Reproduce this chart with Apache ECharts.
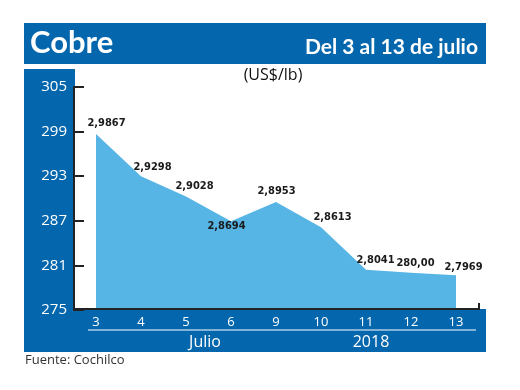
<!DOCTYPE html>
<html>
<head>
<meta charset="utf-8">
<script src="https://cdn.jsdelivr.net/npm/echarts@6/dist/echarts.min.js"></script>
<style>html,body{margin:0;padding:0;background:#fff;}#c{width:520px;height:390px;}</style>
</head>
<body>
<div id="c"></div>
<script>
// Data
var categories = ['3', '4', '5', '6', '9', '10', '11', '12', '13'];
var values = [298.67, 292.98, 290.28, 286.94, 289.53, 286.13, 280.41, 280.00, 279.69];
var valueLabels = ['2,9867', '2,9298', '2,9028', '2,8694', '2,8953', '2,8613', '2,8041', '280,00', '2,7969'];
var yTicks = [275, 281, 287, 293, 299, 305];
var periodLabels = ['Julio', '2018'];

// Label placement (style only)
var labelOffsets = [[10.5, 0.5], [11.5, 2], [8.5, 1], [-4.5, -6.5], [0.5, 0.5], [11.5, 1], [9.5, 1.5], [4.5, 1.5], [7.5, 3]];
var labelPositions = ['top', 'top', 'top', 'bottom', 'top', 'top', 'top', 'top', 'top'];

var BLUE = '#0467ae';
var chart = echarts.init(document.getElementById('c'), null, {renderer: 'canvas'});

var seriesData = values.map(function (v, i) {
  return {
    value: v,
    label: { position: labelPositions[i], offset: labelOffsets[i] }
  };
});

chart.setOption({
  animation: false,
  backgroundColor: '#fff',
  grid: { left: 96, right: 64, top: 87, bottom: 80 },
  xAxis: {
    type: 'category',
    data: categories,
    boundaryGap: false,
    z: 10,
    axisLine: { show: false },
    axisTick: { show: false },
    axisLabel: { color: '#fff', fontSize: 13, fontFamily: 'Open Sans', margin: 6 }
  },
  yAxis: {
    type: 'value',
    min: yTicks[0],
    max: yTicks[yTicks.length - 1],
    interval: 6,
    offset: 22,
    z: 10,
    splitLine: { show: false },
    axisLine: { show: true, lineStyle: { color: '#222', width: 2 } },
    axisTick: { show: true, inside: true, length: 10, lineStyle: { color: '#222', width: 2 } },
    axisLabel: { color: '#fff', fontSize: 15, fontFamily: 'Open Sans', margin: 7 }
  },
  series: [{
    type: 'line',
    data: seriesData,
    symbol: 'circle',
    symbolSize: 1,
    showSymbol: true,
    itemStyle: { color: 'rgba(0,0,0,0)' },
    z: 2,
    lineStyle: { width: 0 },
    areaStyle: { color: '#56b5e4', opacity: 1 },
    label: {
      show: true,
      distance: 5,
      color: '#1a1a1a',
      fontSize: 11,
      fontWeight: 'bold',
      fontFamily: '"DejaVu Sans Condensed", "DejaVu Sans", sans-serif',
      formatter: function (p) { return valueLabels[p.dataIndex]; }
    }
  }],
  graphic: {
    elements: [
      { type: 'rect', z: -10, shape: { x: 24, y: 23, width: 462, height: 41 }, style: { fill: BLUE } },
      { type: 'rect', z: -10, shape: { x: 24, y: 69, width: 51, height: 283 }, style: { fill: BLUE } },
      { type: 'rect', z: 5, shape: { x: 24, y: 309, width: 462, height: 43 }, style: { fill: BLUE } },
      { type: 'polyline', z: 6, shape: { points: [[74, 309], [479, 309], [479, 303]] }, style: { stroke: '#222', lineWidth: 2, fill: null } },
      { type: 'line', z: 6, shape: { x1: 88, y1: 330, x2: 476, y2: 330 }, style: { stroke: '#fff', lineWidth: 1.2 } },
      { type: 'text', z: 6, style: { text: 'Cobre', x: 30, y: 43, textVerticalAlign: 'middle', fill: '#fff', font: 'bold 31px Lato' } },
      { type: 'text', z: 6, style: { text: 'Del 3 al 13 de julio', x: 478, y: 47, textAlign: 'right', textVerticalAlign: 'middle', fill: '#fff', font: 'bold 21px Lato' } },
      { type: 'text', z: 6, style: { text: '(US$/lb)', x: 273, y: 75, textAlign: 'center', textVerticalAlign: 'middle', fill: '#111', font: '16px "Open Sans"' } },
      { type: 'text', z: 6, style: { text: periodLabels[0], x: 205, y: 342, textAlign: 'center', textVerticalAlign: 'middle', fill: '#fff', font: '16px "Open Sans"' } },
      { type: 'text', z: 6, style: { text: periodLabels[1], x: 371, y: 342, textAlign: 'center', textVerticalAlign: 'middle', fill: '#fff', font: '16px "Open Sans"' } },
      { type: 'text', z: 6, style: { text: 'Fuente: Cochilco', x: 25, y: 360, textVerticalAlign: 'middle', fill: '#333', font: '13px "Open Sans"' } }
    ]
  }
});
</script>
</body>
</html>
